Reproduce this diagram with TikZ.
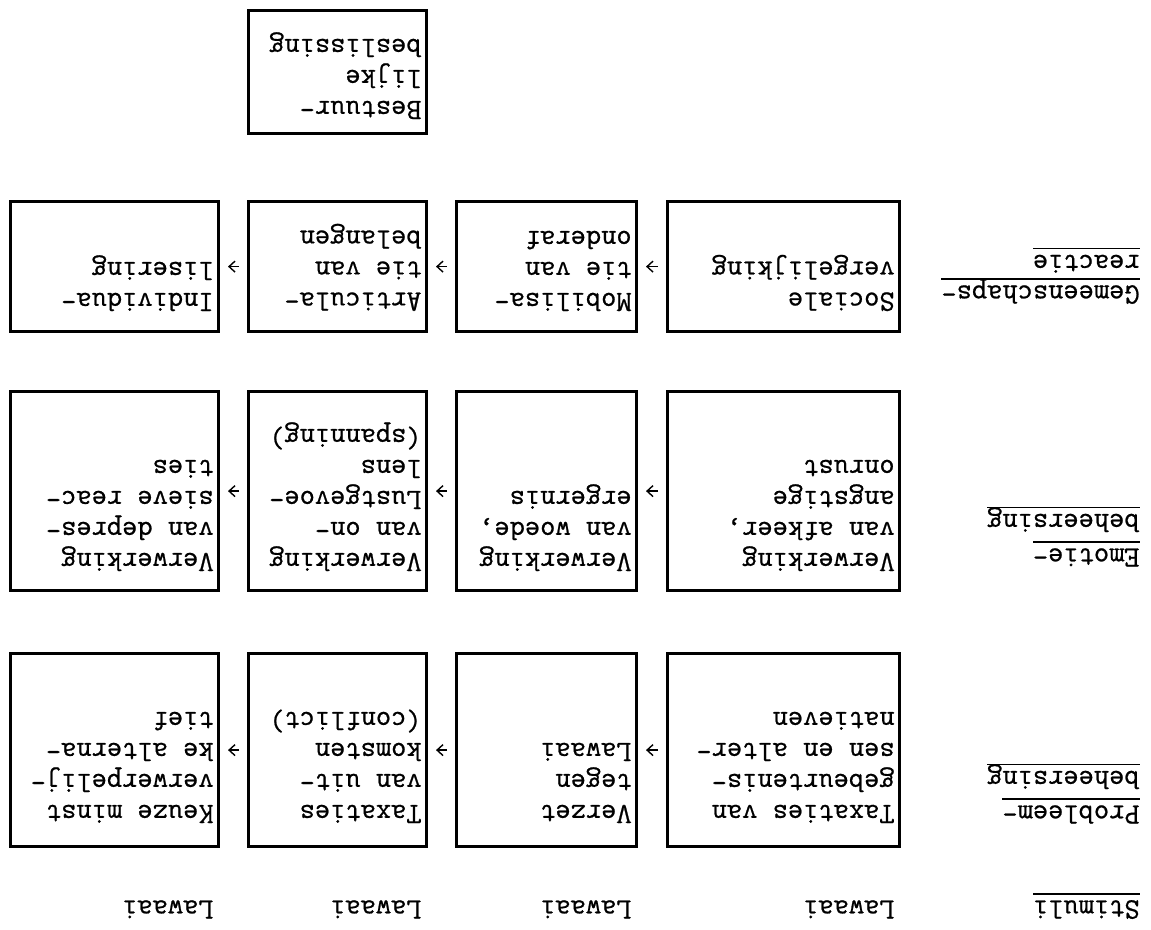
\documentclass[tikz,border=0pt]{standalone}
\usepackage{fontspec}
\usetikzlibrary{arrows.meta}
\newfontfamily\typfamily{Latin Modern Mono}[FakeBold=0.7]
\newcommand{\typfont}{\typfamily\fontsize{14.8}{15.5}\selectfont}
\newcommand{\streep}[1]{\setbox0\hbox{#1}\rlap{\rule[-3.6pt]{\wd0}{0.8pt}}\box0}

\begin{document}
\begin{tikzpicture}[x=0.5pt, y=-0.5pt, >={Straight Barb[length=3pt, width=5.5pt]}, font=\typfont]
  \useasboundingbox (0,0) rectangle (1151,930);
  % the page is printed upside down
  \begin{scope}[shift={(1151,930)}, rotate=180, transform shape,
      blok/.style={draw, line width=1.4pt, inner sep=0pt, anchor=north west},
      tekst/.style={align=left, inner sep=0pt, anchor=north west},
      kop/.style={inner sep=0pt, anchor=base west},
      pijl/.style={->, line width=0.7pt, shorten <=4pt, shorten >=4pt}]
    % stimuli
    \node[kop] (stim) at (11,29.5) {\streep{Stimuli}};
    \node[kop] (law1) at (256,29.5) {Lawaai};
    \node[kop] (law2) at (519,29.5) {Lawaai};
    \node[kop] (law3) at (729,29.5) {Lawaai};
    \node[kop] (law4) at (937,29.5) {Lawaai};
    % probleembeheersing
    \node[kop] (pkop1) at (11,124.5) {\streep{Probleem-}};
    \node[kop] (pkop2) at (11,159) {\streep{beheersing}};
    \node[blok, minimum width=116pt, minimum height=96.5pt] (p1) at (250,82) {};
    \node[blok, minimum width=90pt, minimum height=96.5pt] (p2) at (513,82) {};
    \node[blok, minimum width=89pt, minimum height=96.5pt] (p3) at (723,82) {};
    \node[blok, minimum width=104pt, minimum height=96.5pt] (p4) at (931,82) {};
    \node[tekst] (p1t) at (256,106.5) {Taxaties van\\gebeurtenis-\\sen en alter-\\natieven};
    \node[tekst] (p2t) at (519,106.5) {Verzet\\tegen\\Lawaai};
    \node[tekst] (p3t) at (729,106.5) {Taxaties\\van uit-\\komsten\\(conflict)};
    \node[tekst] (p4t) at (937,106.5) {Keuze minst\\verwerpelij-\\ke alterna-\\tief};
    % emotiebeheersing
    \node[kop] (ekop1) at (11,381.5) {\streep{Emotie-}};
    \node[kop] (ekop2) at (11,416) {\streep{beheersing}};
    \node[blok, minimum width=116pt, minimum height=99.5pt] (e1) at (250,338) {};
    \node[blok, minimum width=90pt, minimum height=99.5pt] (e2) at (513,338) {};
    \node[blok, minimum width=89pt, minimum height=99.5pt] (e3) at (723,338) {};
    \node[blok, minimum width=104pt, minimum height=99.5pt] (e4) at (931,338) {};
    \node[tekst] (e1t) at (256,358.5) {Verwerking\\van afkeer,\\angstige\\onrust};
    \node[tekst] (e2t) at (519,358.5) {Verwerking\\van woede,\\ergernis};
    \node[tekst] (e3t) at (729,358.5) {Verwerking\\van on-\\Lustgevoe-\\lens\\(spanning)};
    \node[tekst] (e4t) at (937,358.5) {Verwerking\\van depres-\\sieve reac-\\ties};
    % gemeenschapsreactie
    \node[kop] (gkop1) at (11,644.5) {\streep{Gemeenschaps-}};
    \node[kop] (gkop2) at (11,675) {\streep{reactie}};
    \node[blok, minimum width=116pt, minimum height=65pt] (g1) at (250,597) {};
    \node[blok, minimum width=90pt, minimum height=65pt] (g2) at (513,597) {};
    \node[blok, minimum width=89pt, minimum height=65pt] (g3) at (723,597) {};
    \node[blok, minimum width=104pt, minimum height=65pt] (g4) at (931,597) {};
    \node[tekst] (g1t) at (256,618.5) {Sociale\\vergelijking};
    \node[tekst] (g2t) at (519,618.5) {Mobilisa-\\tie van\\onderaf};
    \node[tekst] (g3t) at (729,618.5) {Articula-\\tie van\\belangen};
    \node[tekst] (g4t) at (937,618.5) {Individua-\\lisering};
    % bestuur
    \node[blok, minimum width=89pt, minimum height=61.5pt] (best) at (723,795) {};
    \node[tekst] (bestt) at (729,810.5) {Bestuur-\\lijke\\beslissing};
    % pijlen
    \foreach \r in {p,e,g}
      \foreach \a/\b in {1/2,2/3,3/4}
        \draw[pijl] (\r\a.east) -- (\r\b.west);
  \end{scope}
\end{tikzpicture}
\end{document}
